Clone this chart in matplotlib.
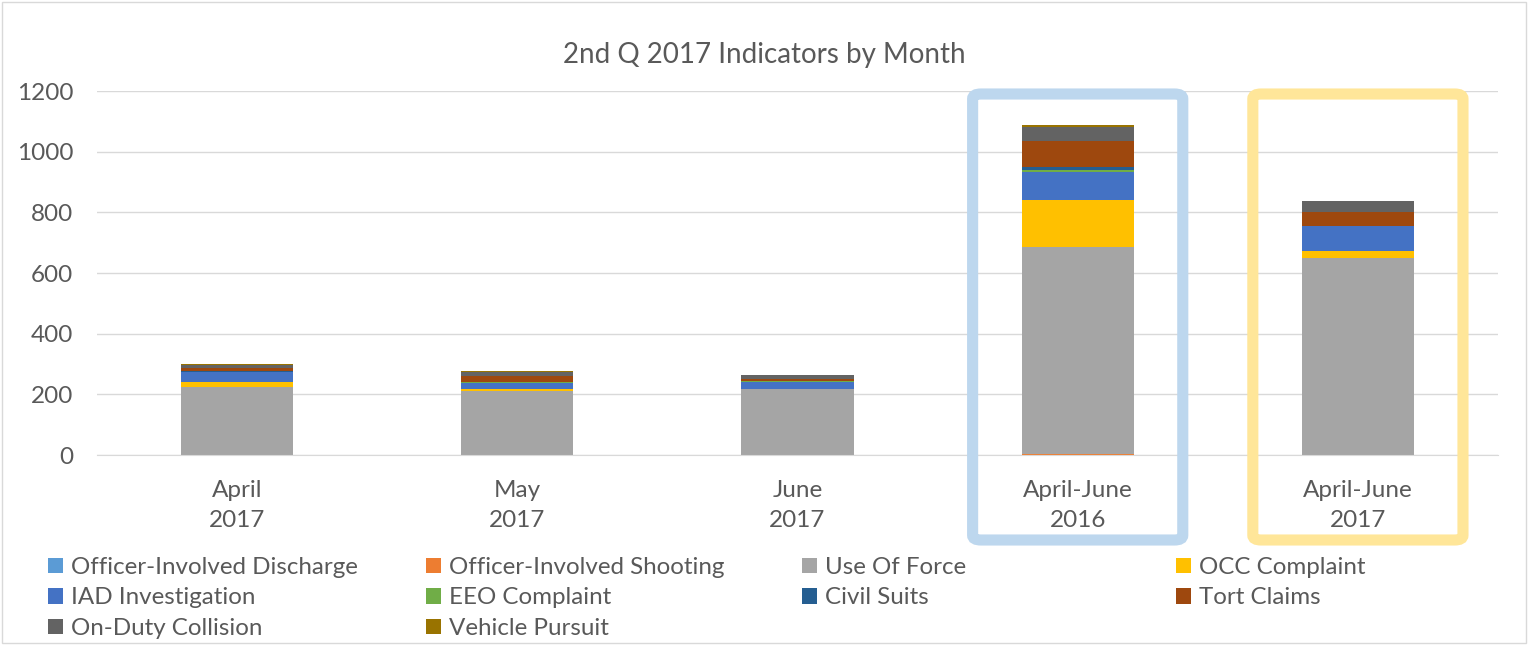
import numpy as np
import matplotlib
matplotlib.use('Agg')
import matplotlib.pyplot as plt
from matplotlib.patches import FancyBboxPatch, Rectangle
import matplotlib.transforms as mtransforms

plt.rcParams['font.family'] = ['Lato', 'DejaVu Sans']

# 数据
categories = ['April\n2017', 'May\n2017', 'June\n2017', 'April-June\n2016', 'April-June\n2017']
series_names = ['Officer-Involved Discharge', 'Officer-Involved Shooting', 'Use Of Force',
                'OCC Complaint', 'IAD Investigation', 'EEO Complaint', 'Civil Suits',
                'Tort Claims', 'On-Duty Collision', 'Vehicle Pursuit']
discharge = [0, 0, 0, 1, 0]
shooting = [0, 0, 0, 3, 0]
use_of_force = [225, 212, 217, 683, 651]
occ_complaint = [17, 4, 1, 154, 21]
iad_investigation = [33, 23, 22, 91, 82]
eeo_complaint = [0, 1, 3, 7, 0]
civil_suits = [1, 1, 1, 9, 1]
tort_claims = [10, 20, 8, 86, 45]
collision = [12, 14, 12, 46, 38]
pursuit = [1, 1, 1, 7, 1]

colors = ['#5B9BD5', '#ED7D31', '#A5A5A5', '#FFC000', '#4472C4',
          '#70AD47', '#255E91', '#9E480E', '#636363', '#997300']

series = [discharge, shooting, use_of_force, occ_complaint, iad_investigation,
          eeo_complaint, civil_suits, tort_claims, collision, pursuit]

TXT = '#595959'

fig = plt.figure(figsize=(15.28, 6.45), dpi=100)
ax = fig.add_axes([97 / 1528, 1 - 455 / 645, (1498 - 97) / 1528, (455 - 91) / 645])

x = np.arange(len(categories))
bottom = np.zeros(len(categories))
handles = []
for name, vals, c in zip(series_names, series, colors):
    vals = np.array(vals, dtype=float)
    b = ax.bar(x, vals, 0.4, bottom=bottom, color=c, label=name, zorder=2)
    handles.append(b)
    bottom += vals

ax.set_xlim(-0.5, len(categories) - 0.5)
ax.set_ylim(0, 1200)
ax.set_yticks(np.arange(0, 1201, 200))
ax.yaxis.grid(True, color='#D9D9D9', linewidth=1, zorder=0)
for s in ['top', 'right', 'left']:
    ax.spines[s].set_visible(False)
ax.spines['bottom'].set_color('#D9D9D9')
ax.tick_params(axis='both', length=0, labelsize=17.5, colors=TXT)
ax.tick_params(axis='y', pad=17)
ax.tick_params(axis='x', pad=18)
ax.set_xticks(x)
ax.set_xticklabels(categories, linespacing=1.55)

fig.text(0.5, 1 - 55 / 645, '2nd Q 2017 Indicators by Month', ha='center', va='center',
         fontsize=20, color=TXT)

# 高亮框
trans = mtransforms.blended_transform_factory(ax.transData, fig.transFigure)
for xi, ec in [(3, '#BDD7EE'), (4, '#FFE699')]:
    box = FancyBboxPatch((xi - 0.375, 1 - 540 / 645), 0.75, (540 - 94) / 645,
                         boxstyle='round,pad=0,rounding_size=0.03',
                         transform=trans, fill=False, ec=ec, lw=8, zorder=5,
                         mutation_aspect=0.25)
    fig.add_artist(box)

# 图例：四列，等间距
columns = [[0, 4, 8], [1, 5, 9], [2, 6], [3, 7]]
col_x = [48, 426, 802, 1176]
for cols, cx in zip(columns, col_x):
    leg = fig.legend([handles[i] for i in cols], [series_names[i] for i in cols],
                     loc='upper left', bbox_to_anchor=(cx / 1528, 1 - 557 / 645),
                     frameon=False, fontsize=17.4, labelcolor=TXT,
                     handlelength=0.6, handleheight=0.6, handletextpad=0.35,
                     labelspacing=0.39, borderpad=0, borderaxespad=0)

# 外框
fig.add_artist(Rectangle((2 / 1528, 2 / 645), 1 - 4 / 1528, 1 - 4 / 645,
                         transform=fig.transFigure, fill=False, ec='#D9D9D9', lw=1))

fig.savefig('out.png', dpi=100)
